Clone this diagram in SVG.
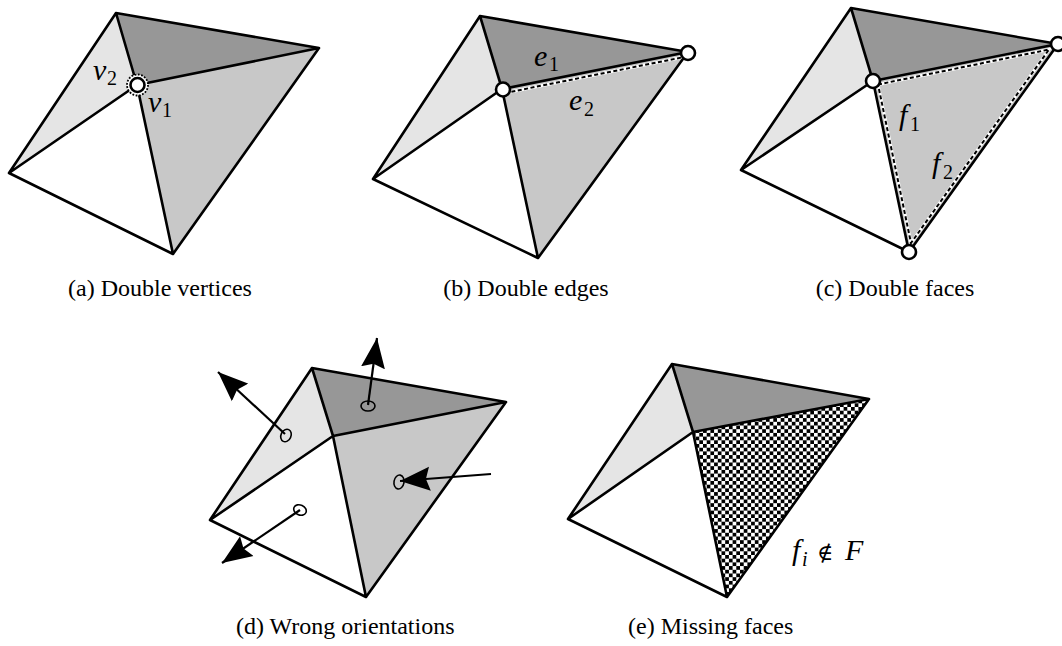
<svg xmlns="http://www.w3.org/2000/svg" width="1062" height="646" viewBox="0 0 1062 646">
<style>
.e{fill:none;stroke:#000;stroke-width:2.6;stroke-linejoin:round;stroke-linecap:round}
.l{fill:#e5e5e5}.d{fill:#979797}.m{fill:#c8c8c8}.w{fill:#fff}
.v{fill:#fff;stroke:#000;stroke-width:2.6}
.h{fill:none;stroke:#fff;stroke-width:3}
.s{fill:none;stroke:#000;stroke-width:2;stroke-dasharray:4 2.5}
.n{fill:none;stroke:#000;stroke-width:1.6}
.a{fill:none;stroke:#000;stroke-width:2.2;marker-end:url(#ah)}
text{font-family:"Liberation Serif","Times New Roman",serif;fill:#000}
.c{font-size:24px}
.i{font-size:30px;font-style:italic}
.u{font-size:20px}
</style>
<defs>
<marker id="ah" markerUnits="userSpaceOnUse" markerWidth="32" markerHeight="26" refX="30" refY="12" orient="auto" viewBox="0 0 32 24"><path d="M0 0L30 12L0 24L4 12Z" fill="#000"/></marker>
<pattern id="ck" patternUnits="userSpaceOnUse" width="7.4" height="7.4"><rect width="7.4" height="7.4" fill="#fff"/><rect width="3.7" height="3.7" fill="#000"/><rect x="3.7" y="3.7" width="3.7" height="3.7" fill="#000"/></pattern>
</defs>
<g id="panel-a">
<path class="l" d="M116 13L137 85L9 173Z"/><path class="d" d="M116 13L319 48L137 85Z"/><path class="m" d="M137 85L319 48L173 254Z"/><path class="w" d="M137 85L173 254L9 173Z"/>
<path class="e" d="M116 13L319 48L173 254L9 173ZM116 13L137 85M319 48L137 85M173 254L137 85M9 173L137 85"/>
<circle cx="137.500" cy="85" r="10.500" fill="#fff" stroke="#000" stroke-width="1.800" stroke-dasharray="1.800 1.500"/>
<circle class="v" cx="137.500" cy="85" r="7"/>
<text class="i" x="93" y="80">v</text><text class="u" x="107" y="85">2</text>
<text class="i" x="148" y="112">v</text><text class="u" x="162" y="117">1</text>
<text class="c" x="68" y="296">(a) Double vertices</text>
</g>
<g id="panel-b">
<path class="l" d="M480 16L502 89L373 179Z"/><path class="d" d="M480 16L688 52L502 89Z"/><path class="m" d="M502 89L688 52L538 258Z"/><path class="w" d="M502 89L538 258L373 179Z"/>
<path class="h" d="M505 93L684 57"/><path class="s" d="M505 93L684 57"/>
<path class="e" d="M480 16L688 52L538 258L373 179ZM480 16L502 89M688 52L502 89M538 258L502 89M373 179L502 89"/>
<circle class="v" cx="503" cy="89.500" r="7"/><circle class="v" cx="688" cy="53" r="7"/>
<text class="i" x="534" y="66">e</text><text class="u" x="549" y="71">1</text>
<text class="i" x="569" y="110">e</text><text class="u" x="584" y="116">2</text>
<text class="c" x="526" y="296" text-anchor="middle">(b) Double edges</text>
</g>
<g id="panel-c">
<path class="l" d="M851 8L873 81L741 170Z"/><path class="d" d="M851 8L1058 44L873 81Z"/><path class="m" d="M873 81L1058 44L909 252Z"/><path class="w" d="M873 81L909 252L741 170Z"/>
<path class="h" d="M878 84.500L1049 49.500L911 243Z"/><path class="s" d="M878 84.500L1049 49.500L911 243Z"/>
<path class="e" d="M851 8L1058 44L909 252L741 170ZM851 8L873 81M1058 44L873 81M909 252L873 81M741 170L873 81"/>
<circle class="v" cx="873" cy="81" r="7"/><circle class="v" cx="1058" cy="44" r="7"/><circle class="v" cx="909" cy="252" r="7"/>
<text class="i" x="899" y="125">f</text><text class="u" x="910" y="131">1</text>
<text class="i" x="932" y="173">f</text><text class="u" x="943" y="179">2</text>
<text class="c" x="895" y="296" text-anchor="middle">(c) Double faces</text>
</g>
<g id="panel-d">
<path class="l" d="M312 368L333 436L210 520Z"/><path class="d" d="M312 368L506 402L333 436Z"/><path class="m" d="M333 436L506 402L366 597Z"/><path class="w" d="M333 436L366 597L210 520Z"/>
<path class="e" d="M312 368L506 402L366 597L210 520ZM312 368L333 436M506 402L333 436M366 597L333 436M210 520L333 436"/>
<ellipse class="n" cx="286" cy="435.500" rx="5" ry="6.500" transform="rotate(25 286 435.500)"/>
<ellipse class="n" cx="368" cy="406" rx="7" ry="5"/>
<ellipse class="n" cx="399" cy="482" rx="5" ry="7" transform="rotate(10 399 482)"/>
<ellipse class="n" cx="300" cy="510" rx="6.500" ry="5" transform="rotate(25 300 510)"/>
<g id="arrows">
<path class="a" d="M285 434L218 372"/>
<path class="a" d="M368 405L377 338"/>
<path class="a" d="M491 474L400 481"/>
<path class="a" d="M300 510L222 563"/>
</g>
<text class="c" x="236" y="634">(d) Wrong orientations</text>
</g>
<g id="panel-e">
<path class="l" d="M672 364L693 432L568 519Z"/><path class="d" d="M672 364L869 399L693 432Z"/><path fill="url(#ck)" d="M693 432L869 399L727 597Z"/><path class="w" d="M693 432L727 597L568 519Z"/>
<path class="e" d="M672 364L869 399L727 597L568 519ZM672 364L693 432M869 399L693 432M727 597L693 432M568 519L693 432"/>
<text class="i" x="792" y="560">f</text><text class="u" x="802" y="566" font-style="italic">i</text>
<text x="817" y="560" style="font-family:'DejaVu Serif','Liberation Serif',serif;font-size:22px">∉</text>
<text class="i" x="845" y="560">F</text>
<text class="c" x="628" y="634">(e) Missing faces</text>
</g>
</svg>
